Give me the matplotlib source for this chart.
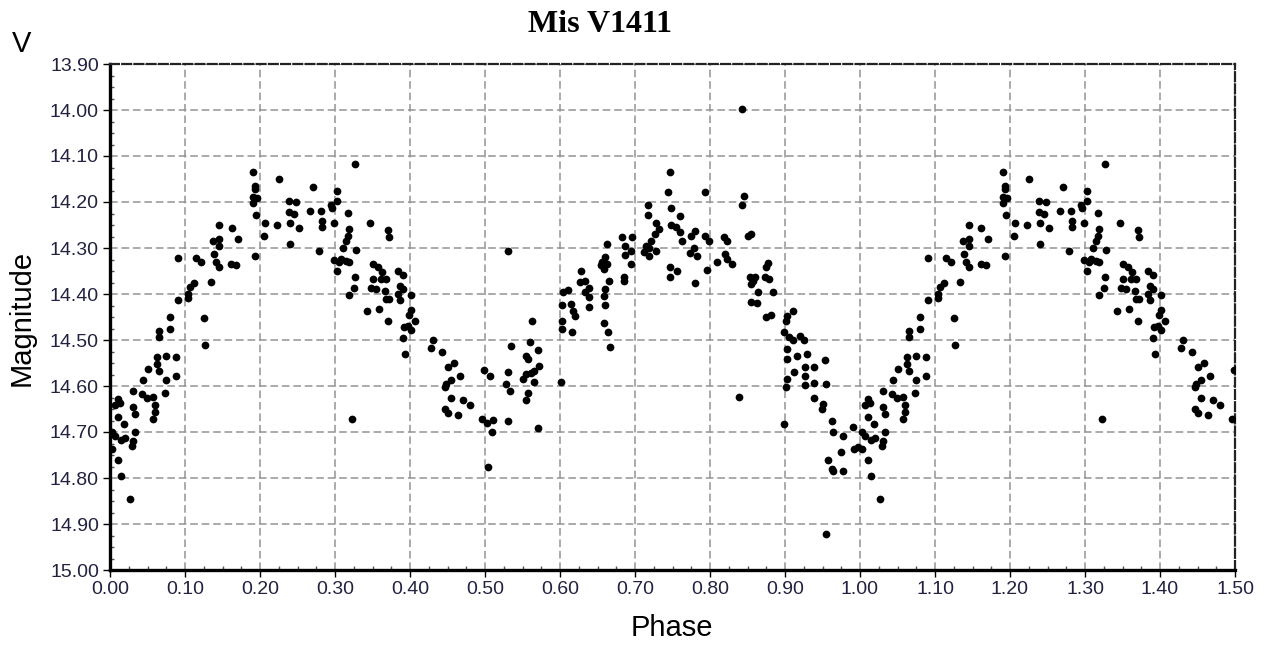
import numpy as np
import matplotlib
matplotlib.use("Agg")
import matplotlib.pyplot as plt
from matplotlib.ticker import MultipleLocator, FormatStrFormatter

# Phase (0-1) and V magnitude
phase = [
    0.145, 0.162, 0.137, 0.145, 0.145, 0.139, 0.141, 0.145, 0.161, 0.091, 0.115, 0.121,
    0.134, 0.112, 0.106, 0.104, 0.090, 0.104, 0.080, 0.125, 0.080, 0.065, 0.065, 0.127,
    0.063, 0.063, 0.065, 0.075, 0.088, 0.088, 0.075, 0.050, 0.044, 0.031, 0.042, 0.049,
    0.057, 0.060, 0.060, 0.057, 0.073, 0.011, 0.013, 0.007, 0.031, 0.033, 0.011, 0.018,
    0.020, 0.002, 0.007, 0.015, 0.033, 0.031, 0.029, 0.002, 0.011, 0.015, 0.026,
    0.326, 0.191, 0.225, 0.193, 0.193, 0.270, 0.302, 0.190, 0.196, 0.191, 0.238, 0.248,
    0.303, 0.294, 0.296, 0.238, 0.245, 0.266, 0.281, 0.317, 0.194, 0.207, 0.222, 0.240,
    0.252, 0.283, 0.283, 0.299, 0.319, 0.317, 0.314, 0.205, 0.240, 0.171, 0.279, 0.310,
    0.328, 0.193, 0.168, 0.299, 0.305, 0.308, 0.314, 0.319, 0.303, 0.326, 0.325, 0.318,
    0.322,
    0.346, 0.370, 0.372, 0.350, 0.357, 0.363, 0.361, 0.368, 0.350, 0.348, 0.355, 0.366,
    0.368, 0.372, 0.384, 0.390, 0.386, 0.390, 0.384, 0.386, 0.401, 0.343, 0.359, 0.370,
    0.401, 0.398, 0.406, 0.397, 0.392, 0.401, 0.390, 0.393, 0.430, 0.428, 0.442, 0.459,
    0.451, 0.466, 0.455, 0.448, 0.446, 0.455, 0.471, 0.480, 0.446, 0.451, 0.464,
    0.530, 0.563, 0.535, 0.560, 0.570, 0.554, 0.557, 0.498, 0.507, 0.530, 0.572, 0.565,
    0.561, 0.554, 0.550, 0.565, 0.528, 0.533, 0.557, 0.554, 0.601, 0.496, 0.502, 0.511,
    0.509, 0.530, 0.570, 0.504, 0.604, 0.611, 0.602, 0.615, 0.617, 0.620, 0.602, 0.602,
    0.616, 0.628, 0.633, 0.626, 0.633, 0.638, 0.639, 0.639,
    0.663, 0.660, 0.656, 0.663, 0.658, 0.654, 0.665, 0.660, 0.658, 0.660, 0.658, 0.664,
    0.667, 0.685, 0.685, 0.682, 0.696, 0.687, 0.694, 0.687, 0.694, 0.717, 0.717, 0.728,
    0.732, 0.726, 0.721, 0.714, 0.712, 0.718, 0.728, 0.718, 0.746, 0.744, 0.748, 0.760,
    0.748, 0.755, 0.760, 0.762, 0.746, 0.756, 0.746, 0.793, 0.780, 0.775, 0.778, 0.773,
    0.782, 0.793, 0.798, 0.780, 0.796, 0.809, 0.818, 0.823, 0.820, 0.823, 0.829,
    0.842, 0.845, 0.842, 0.851, 0.855, 0.877, 0.875, 0.853, 0.857, 0.855, 0.860, 0.873,
    0.879, 0.864, 0.884, 0.855, 0.862, 0.875, 0.881, 0.838, 0.910, 0.903, 0.901, 0.899,
    0.905, 0.910, 0.920, 0.925, 0.903, 0.903, 0.916, 0.929, 0.953, 0.927, 0.938, 0.927,
    0.912, 0.903, 0.901, 0.927, 0.939, 0.955, 0.939, 0.951, 0.949, 0.899, 0.962, 0.964,
    0.977, 0.990, 0.975, 0.992, 0.997, 0.957, 0.962, 0.964, 0.977, 0.955,
]
magnitude = [
    14.251, 14.257, 14.284, 14.280, 14.295, 14.313, 14.331, 14.342, 14.335, 14.322, 14.322, 14.331,
    14.373, 14.377, 14.385, 14.400, 14.413, 14.409, 14.451, 14.453, 14.476, 14.480, 14.494, 14.511,
    14.538, 14.552, 14.567, 14.534, 14.536, 14.578, 14.586, 14.564, 14.587, 14.610, 14.617, 14.625,
    14.623, 14.641, 14.657, 14.672, 14.615, 14.628, 14.636, 14.641, 14.646, 14.661, 14.668, 14.683,
    14.712, 14.701, 14.708, 14.717, 14.701, 14.719, 14.730, 14.736, 14.760, 14.795, 14.846,
    14.117, 14.134, 14.150, 14.166, 14.172, 14.168, 14.175, 14.190, 14.192, 14.202, 14.197, 14.201,
    14.197, 14.207, 14.214, 14.222, 14.226, 14.219, 14.219, 14.224, 14.228, 14.246, 14.250, 14.246,
    14.257, 14.241, 14.255, 14.246, 14.259, 14.273, 14.284, 14.273, 14.291, 14.280, 14.306, 14.299,
    14.304, 14.318, 14.338, 14.325, 14.331, 14.324, 14.328, 14.331, 14.349, 14.364, 14.386, 14.402,
    14.672,
    14.246, 14.260, 14.275, 14.335, 14.342, 14.353, 14.367, 14.367, 14.367, 14.386, 14.390, 14.393,
    14.411, 14.411, 14.351, 14.358, 14.382, 14.389, 14.400, 14.414, 14.402, 14.436, 14.433, 14.458,
    14.434, 14.446, 14.458, 14.469, 14.472, 14.479, 14.496, 14.530, 14.499, 14.518, 14.527, 14.549,
    14.559, 14.578, 14.588, 14.596, 14.603, 14.625, 14.630, 14.641, 14.650, 14.659, 14.663,
    14.306, 14.458, 14.514, 14.505, 14.521, 14.534, 14.541, 14.565, 14.578, 14.569, 14.556, 14.567,
    14.572, 14.574, 14.585, 14.592, 14.596, 14.610, 14.615, 14.630, 14.591, 14.672, 14.680, 14.673,
    14.701, 14.675, 14.692, 14.777, 14.396, 14.391, 14.424, 14.422, 14.436, 14.447, 14.458, 14.475,
    14.483, 14.351, 14.371, 14.373, 14.396, 14.386, 14.407, 14.429,
    14.291, 14.320, 14.331, 14.335, 14.346, 14.338, 14.371, 14.389, 14.404, 14.424, 14.462, 14.483,
    14.516, 14.364, 14.371, 14.275, 14.275, 14.295, 14.306, 14.315, 14.335, 14.207, 14.228, 14.246,
    14.259, 14.270, 14.284, 14.295, 14.309, 14.317, 14.306, 14.299, 14.134, 14.178, 14.212, 14.231,
    14.251, 14.255, 14.266, 14.284, 14.342, 14.349, 14.364, 14.178, 14.262, 14.273, 14.299, 14.311,
    14.317, 14.273, 14.284, 14.376, 14.347, 14.330, 14.275, 14.284, 14.313, 14.324, 14.335,
    13.998, 14.186, 14.207, 14.273, 14.270, 14.333, 14.342, 14.364, 14.371, 14.378, 14.364, 14.364,
    14.367, 14.396, 14.395, 14.418, 14.419, 14.451, 14.446, 14.623, 14.436, 14.447, 14.458, 14.483,
    14.494, 14.501, 14.492, 14.501, 14.520, 14.541, 14.534, 14.530, 14.543, 14.559, 14.559, 14.578,
    14.569, 14.585, 14.603, 14.597, 14.593, 14.595, 14.625, 14.639, 14.650, 14.683, 14.675, 14.701,
    14.709, 14.690, 14.743, 14.737, 14.733, 14.760, 14.780, 14.784, 14.784, 14.922,
]

x_ticks = [round(0.1 * i, 2) for i in range(16)]
y_ticks = [round(13.9 + 0.1 * i, 2) for i in range(12)]

# Phase-fold display: show 0..1.5 (points below phase 0.5 repeated one cycle later)
ph = np.asarray(phase)
mg = np.asarray(magnitude)
sel = ph < 0.5
ph_all = np.concatenate([ph, ph[sel] + 1.0])
mg_all = np.concatenate([mg, mg[sel]])

W, H = 1265, 648
fig = plt.figure(figsize=(W / 100, H / 100), dpi=100)
fig.patch.set_facecolor("white")
L, R, T, B = 110, 1235, 64, 570
ax = fig.add_axes([L / W, 1 - B / H, (R - L) / W, (B - T) / H])

ax.scatter(ph_all, mg_all, s=31, c="black", marker="o", linewidths=0, zorder=3)

ax.set_xlim(0, 1.5)
ax.set_ylim(15.0, 13.9)
ax.set_xticks(x_ticks)
ax.set_yticks(y_ticks)
ax.xaxis.set_major_formatter(FormatStrFormatter("%.2f"))
ax.yaxis.set_major_formatter(FormatStrFormatter("%.2f"))
ax.xaxis.set_minor_locator(MultipleLocator(0.025))
ax.yaxis.set_minor_locator(MultipleLocator(0.025))

lab_color = "#222240"
ax.tick_params(axis="both", which="major", direction="out", length=5, width=1,
               labelsize=14, colors="black", labelcolor=lab_color, pad=3)
ax.tick_params(axis="both", which="minor", direction="in", length=3, width=1, colors="#555")
for lab in ax.get_xticklabels() + ax.get_yticklabels():
    lab.set_fontfamily("Liberation Sans")

ax.grid(True, which="major", color="#939393", linestyle=(0, (5, 2.5)), linewidth=1.1, zorder=0)

for side in ["left", "bottom"]:
    ax.spines[side].set_linewidth(2.4)
    ax.spines[side].set_color("black")
for side in ["top", "right"]:
    ax.spines[side].set_linewidth(1.6)
    ax.spines[side].set_color("#222")
    ax.spines[side].set_linestyle((0, (4, 1.5)))

fig.text(600 / W, 1 - 24 / H, "Mis V1411", ha="center", va="center",
         fontsize=23, fontweight="bold", family="Liberation Serif")
fig.text(22 / W, 1 - 44 / H, "V", ha="center", va="center",
         fontsize=21, family="Liberation Sans")
fig.text(22 / W, 1 - 318 / H, "Magnitude", ha="center", va="center", rotation=90,
         fontsize=21, family="Liberation Sans")
fig.text(672 / W, 1 - 628 / H, "Phase", ha="center", va="center",
         fontsize=21, family="Liberation Sans")

fig.savefig("out.png", dpi=100, facecolor="white")
